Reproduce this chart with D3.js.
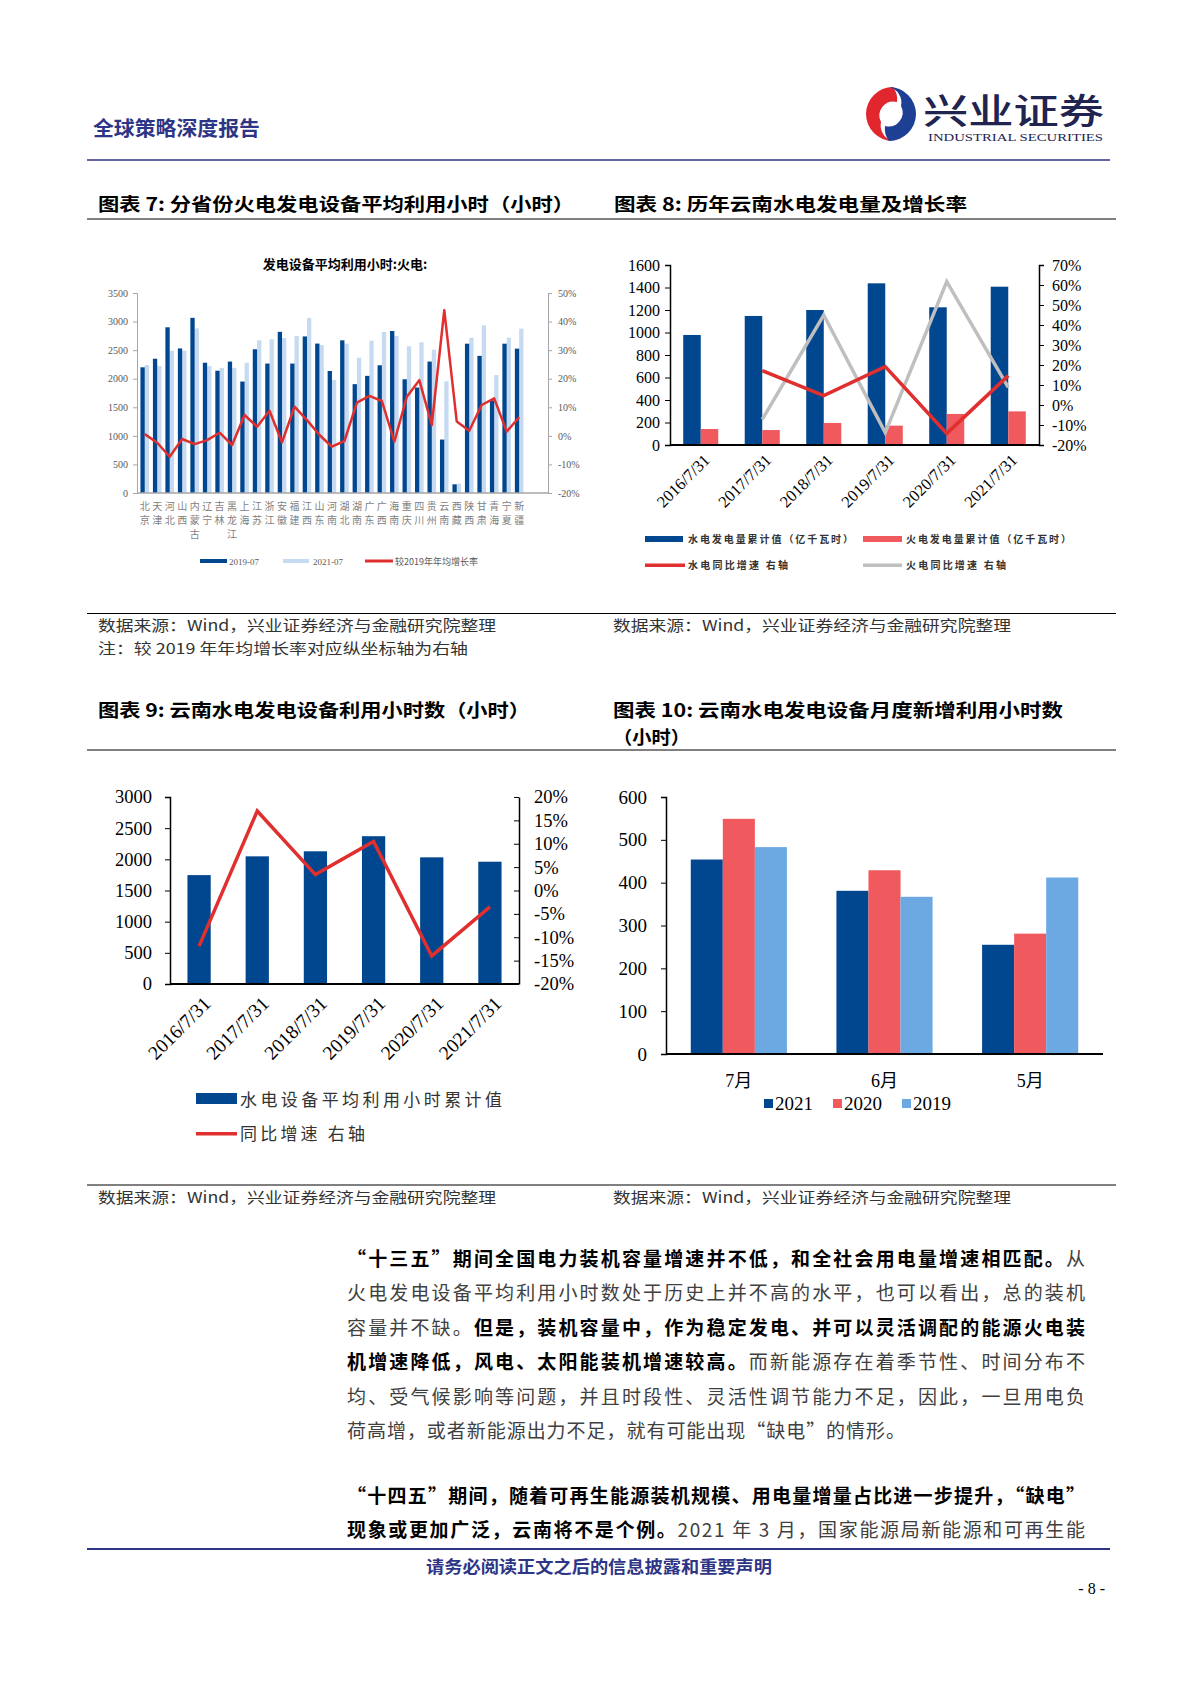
<!DOCTYPE html>
<html>
<head>
<meta charset="utf-8">
<script src="https://cdn.jsdelivr.net/npm/d3@7"></script>
<style>
  body { margin: 0; background: #fff; }
  svg { display: block; }
  .cjk { font-family: "Noto Sans CJK SC", sans-serif; }
  .num { font-family: "Liberation Serif", "Noto Sans CJK SC", serif; }
</style>
</head>
<body>
<div id="page"></div>
<script>
// ---------- data ----------
var provinces = ["北京", "天津", "河北", "山西", "内蒙古", "辽宁", "吉林", "黑龙江", "上海", "江苏", "浙江",
  "安徽", "福建", "江西", "山东", "河南", "湖北", "湖南", "广东", "广西", "海南", "重庆", "四川", "贵州",
  "云南", "西藏", "陕西", "甘肃", "青海", "宁夏", "新疆"];
var hours2019 = [2200, 2350, 2900, 2530, 3065, 2280, 2140, 2300, 1950, 2515, 2265, 2820, 2265, 2740, 2615,
  2135, 2672, 1905, 2050, 2235, 2835, 1990, 1845, 2300, 935, 152, 2613, 2400, 1620, 2613, 2526];
var hours2021 = [2240, 2222, 2490, 2490, 2880, 2222, 2190, 2190, 2280, 2673, 2690, 2713, 2749, 3065, 2590,
  1980, 2613, 2368, 2666, 2817, 2747, 2567, 2637, 2508, 1954, 163, 2718, 2934, 2065, 2718, 2876];
var growthVs2019 = [0.6, -2.4, -7.3, -1.1, -2.9, -1.5, 1.1, -3.2, 7.3, 3.2, 8.8, -2.3, 10.2, 5.5, 0.3,
  -3.8, -1.8, 11.6, 14.0, 12.2, -2.0, 13.7, 19.5, 3.8, 44.0, 5.0, 1.8, 10.8, 13.1, 1.5, 6.5];

var years = ["2016/7/31", "2017/7/31", "2018/7/31", "2019/7/31", "2020/7/31", "2021/7/31"];
var hydroGen = [978, 1147, 1200, 1437, 1224, 1407];
var thermalGen = [142, 133, 196, 172, 276, 299];
var hydroGenYoY = [null, 17.2, 4.7, 19.2, -14.2, 14.7];
var thermalGenYoY = [null, -7.2, 45.0, -13.8, 61.7, 8.8];

var hydroHours = [1747, 2048, 2129, 2371, 2032, 1962];
var hydroHoursYoY = [-11.9, 17.0, 3.4, 10.5, -14.0, -3.5];

var months = ["7月", "6月", "5月"];
var monthSeries = ["2021", "2020", "2019"];
var newHours2021 = [454, 381, 255];
var newHours2020 = [549, 429, 281];
var newHours2019 = [483, 367, 412];

var yTicks7 = [0, 500, 1000, 1500, 2000, 2500, 3000, 3500];
var rTicks7 = [-20, -10, 0, 10, 20, 30, 40, 50];
var yTicks8 = [0, 200, 400, 600, 800, 1000, 1200, 1400, 1600];
var rTicks8 = [-20, -10, 0, 10, 20, 30, 40, 50, 60, 70];
var yTicks9 = [0, 500, 1000, 1500, 2000, 2500, 3000];
var rTicks9 = [-20, -15, -10, -5, 0, 5, 10, 15, 20];
var yTicks10 = [0, 100, 200, 300, 400, 500, 600];

// body text, one entry per line: [text, bold]
var para1 = [
  [["“十三五”期间全国电力装机容量增速并不低，和全社会用电量增速相匹配。", true], ["从", false]],
  [["火电发电设备平均利用小时数处于历史上并不高的水平，也可以看出，总的装机", false]],
  [["容量并不缺。", false], ["但是，装机容量中，作为稳定发电、并可以灵活调配的能源火电装", true]],
  [["机增速降低，风电、太阳能装机增速较高。", true], ["而新能源存在着季节性、时间分布不", false]],
  [["均、受气候影响等问题，并且时段性、灵活性调节能力不足，因此，一旦用电负", false]],
  [["荷高增，或者新能源出力不足，就有可能出现“缺电”的情形。", false]]
];
var para2 = [
  [["“十四五”期间，随着可再生能源装机规模、用电量增量占比进一步提升，“缺电”", true]],
  [["现象或更加广泛，云南将不是个例。", true], ["2021 年 3 月，国家能源局新能源和可再生能", false]]
];

// ---------- colors ----------
var navy = "#00478F";
var lightBlue = "#C6DBF2";
var redBar = "#F0595E";
var redLine = "#E02F2F";
var greyLine = "#BFBFBF";
var skyBlue = "#6CA8E2";
var headerBlue = "#2E3586";
var plain = d3.format("d");

var svg = d3.select("#page").append("svg")
  .attr("width", 1200)
  .attr("height", 1698);

svg.append("rect").attr("width", 1200).attr("height", 1698).attr("fill", "#fff");

// ---------- page header ----------
svg.append("text").attr("class", "cjk")
  .attr("x", 93).attr("y", 136)
  .attr("font-size", 20).attr("font-weight", "bold")
  .attr("fill", headerBlue)
  .attr("textLength", 167).attr("lengthAdjust", "spacingAndGlyphs")
  .text("全球策略深度报告");

// logo swirl
var logo = svg.append("g").attr("transform", "translate(891,114)");
logo.append("path")
  .attr("d", "M2,-27 A27,27 0 1,0 2,27 A16,16 0 0,1 -10,8 A14,14 0 0,1 6,-12 A20,20 0 0,0 2,-27 Z")
  .attr("fill", "#E1262D");
logo.append("path")
  .attr("d", "M-2,27 A27,27 0 1,0 -2,-27 A16,16 0 0,1 10,-8 A14,14 0 0,1 -6,12 A20,20 0 0,0 -2,27 Z")
  .attr("fill", "#1D3F94");

svg.append("text").attr("class", "cjk")
  .attr("x", 923).attr("y", 124)
  .attr("font-size", 35).attr("font-weight", 500)
  .attr("fill", "#1F2450")
  .attr("textLength", 181).attr("lengthAdjust", "spacingAndGlyphs")
  .text("兴业证券");
svg.append("text").attr("class", "num")
  .attr("x", 928).attr("y", 141)
  .attr("font-size", 10.5)
  .attr("fill", "#1F2450")
  .attr("textLength", 175).attr("lengthAdjust", "spacingAndGlyphs")
  .text("INDUSTRIAL SECURITIES");

svg.append("line").attr("x1", 87).attr("x2", 1110).attr("y1", 160).attr("y2", 160)
  .attr("stroke", headerBlue).attr("stroke-width", 1.5);

// ---------- section titles, rules and sources ----------
function title(x, y, str, len) {
  svg.append("text").attr("class", "cjk")
    .attr("x", x).attr("y", y)
    .attr("font-size", 18).attr("font-weight", "bold")
    .attr("fill", "#000")
    .attr("textLength", len).attr("lengthAdjust", "spacingAndGlyphs")
    .text(str);
}
function rule(y) {
  svg.append("line").attr("x1", 87).attr("x2", 1116).attr("y1", y).attr("y2", y)
    .attr("stroke", "#000").attr("stroke-width", 1);
}
function note(x, y, str, len) {
  svg.append("text").attr("class", "cjk")
    .attr("x", x).attr("y", y)
    .attr("font-size", 15).attr("fill", "#333")
    .attr("textLength", len).attr("lengthAdjust", "spacingAndGlyphs")
    .text(str);
}

title(98, 211, "图表 7:  分省份火电发电设备平均利用小时（小时）", 476);
title(614, 211, "图表 8:  历年云南水电发电量及增长率", 353);
rule(219);
rule(613.5);
note(98, 631, "数据来源：Wind，兴业证券经济与金融研究院整理", 398);
note(98, 654, "注：较 2019 年年均增长率对应纵坐标轴为右轴", 370);
note(613, 631, "数据来源：Wind，兴业证券经济与金融研究院整理", 398);

title(98, 717, "图表 9:  云南水电发电设备利用小时数（小时）", 432);
title(613, 717, "图表 10:  云南水电发电设备月度新增利用小时数", 450);
title(613, 744, "（小时）", 77);
rule(750);
rule(1185);
note(98, 1203, "数据来源：Wind，兴业证券经济与金融研究院整理", 398);
note(613, 1203, "数据来源：Wind，兴业证券经济与金融研究院整理", 398);

// ---------- chart 7 ----------
var p7 = { left: 137, right: 548, top: 293, bottom: 493 };
var x7 = d3.scaleBand().domain(provinces).range([138.5, 525.4]).paddingInner(0.31).paddingOuter(0.155);
var sub7 = d3.scaleBand().domain(["2019-07", "2021-07"]).range([0, x7.bandwidth()]);
var y7 = d3.scaleLinear().domain([0, 3500]).range([p7.bottom, p7.top]);
var r7 = d3.scaleLinear().domain([-20, 50]).range([p7.bottom, p7.top]);
var g7 = svg.append("g");

g7.append("text").attr("class", "cjk")
  .attr("x", 345).attr("y", 269)
  .attr("text-anchor", "middle")
  .attr("font-size", 13).attr("font-weight", "bold")
  .attr("fill", "#000")
  .text("发电设备平均利用小时:火电:");

g7.selectAll(".b21").data(hours2021).enter().append("rect")
  .attr("x", (d, i) => x7(provinces[i]) + sub7("2021-07"))
  .attr("y", d => y7(d))
  .attr("width", sub7.bandwidth())
  .attr("height", d => y7(0) - y7(d))
  .attr("fill", lightBlue);
g7.selectAll(".b19").data(hours2019).enter().append("rect")
  .attr("x", (d, i) => x7(provinces[i]) + sub7("2019-07"))
  .attr("y", d => y7(d))
  .attr("width", sub7.bandwidth())
  .attr("height", d => y7(0) - y7(d))
  .attr("fill", navy);

var yAxis7 = g7.append("g")
  .attr("transform", `translate(${p7.left},0)`)
  .call(d3.axisLeft(y7).tickValues(yTicks7).tickSize(4).tickPadding(5).tickFormat(plain));
var rAxis7 = g7.append("g")
  .attr("transform", `translate(${p7.right},0)`)
  .call(d3.axisRight(r7).tickValues(rTicks7).tickSize(4).tickPadding(6).tickFormat(d => d + "%"));
[yAxis7, rAxis7].forEach(function (a) {
  a.select(".domain").attr("stroke", "#A6A6A6");
  a.selectAll(".tick line").attr("stroke", "#A6A6A6");
  a.selectAll(".tick text").attr("class", "num").attr("font-size", 10).attr("fill", "#595959");
});

g7.append("line")
  .attr("x1", p7.left).attr("x2", p7.right)
  .attr("y1", y7(0)).attr("y2", y7(0))
  .attr("stroke", "#A6A6A6").attr("stroke-width", 1.5);

g7.append("path")
  .datum(growthVs2019)
  .attr("fill", "none")
  .attr("stroke", redLine)
  .attr("stroke-width", 2.5)
  .attr("stroke-linejoin", "round")
  .attr("d", d3.line()
    .x((d, i) => x7(provinces[i]) + x7.bandwidth() / 2)
    .y(d => r7(d)));

// vertical province labels
var lab7 = g7.selectAll(".plab").data(provinces).enter().append("text")
  .attr("class", "cjk")
  .attr("font-size", 10)
  .attr("fill", "#7F7F7F")
  .attr("text-anchor", "middle");
lab7.each(function (name) {
  var t = d3.select(this);
  var cx = x7(name) + x7.bandwidth() / 2;
  name.split("").forEach(function (ch, k) {
    t.append("tspan").attr("x", cx).attr("y", 510 + k * 14).text(ch);
  });
});

// legend 7
var leg7 = g7.append("g").attr("class", "cjk").attr("font-size", 9).attr("fill", "#595959");
leg7.append("rect").attr("x", 200).attr("y", 559).attr("width", 27).attr("height", 4).attr("fill", navy);
leg7.append("text").attr("class", "num").attr("x", 229).attr("y", 565).text("2019-07");
leg7.append("rect").attr("x", 283).attr("y", 559).attr("width", 26).attr("height", 4).attr("fill", lightBlue);
leg7.append("text").attr("class", "num").attr("x", 313).attr("y", 565).text("2021-07");
leg7.append("rect").attr("x", 365).attr("y", 559.5).attr("width", 28).attr("height", 3).attr("fill", redLine);
leg7.append("text").attr("x", 395).attr("y", 565).text("较2019年年均增长率");

// ---------- chart 8 ----------
var p8 = { left: 670, right: 1039, top: 265, bottom: 445 };
var x8 = d3.scaleBand().domain(years).range([p8.left, p8.right]).paddingInner(0.43).paddingOuter(0.215);
var sub8 = d3.scaleBand().domain(["hydro", "thermal"]).range([0, x8.bandwidth()]);
var y8 = d3.scaleLinear().domain([0, 1600]).range([p8.bottom, p8.top]);
var r8 = d3.scaleLinear().domain([-20, 70]).range([p8.bottom, p8.top]);
var g8 = svg.append("g");

g8.selectAll(".h").data(hydroGen).enter().append("rect")
  .attr("x", (d, i) => x8(years[i]) + sub8("hydro"))
  .attr("y", d => y8(d))
  .attr("width", sub8.bandwidth())
  .attr("height", d => y8(0) - y8(d))
  .attr("fill", navy);
g8.selectAll(".t").data(thermalGen).enter().append("rect")
  .attr("x", (d, i) => x8(years[i]) + sub8("thermal"))
  .attr("y", d => y8(d))
  .attr("width", sub8.bandwidth())
  .attr("height", d => y8(0) - y8(d))
  .attr("fill", redBar);

var line8 = d3.line()
  .defined(d => d !== null)
  .x((d, i) => x8(years[i]) + x8.bandwidth() / 2)
  .y(d => r8(d));
g8.append("path").datum(thermalGenYoY)
  .attr("fill", "none").attr("stroke", greyLine).attr("stroke-width", 3.5)
  .attr("d", line8);
g8.append("path").datum(hydroGenYoY)
  .attr("fill", "none").attr("stroke", redLine).attr("stroke-width", 3.5)
  .attr("d", line8);

var yAxis8 = g8.append("g")
  .attr("transform", `translate(${p8.left},0)`)
  .call(d3.axisLeft(y8).tickValues(yTicks8).tickSize(5).tickPadding(5).tickFormat(plain));
var rAxis8 = g8.append("g")
  .attr("transform", `translate(${p8.right},0)`)
  .call(d3.axisRight(r8).tickValues(rTicks8).tickSize(5).tickPadding(8).tickFormat(d => d + "%"));
[yAxis8, rAxis8].forEach(function (a) {
  a.select(".domain").attr("stroke", "#000").attr("stroke-width", 1.5);
  a.selectAll(".tick line").attr("stroke", "#000");
  a.selectAll(".tick text").attr("class", "num").attr("font-size", 16).attr("fill", "#000");
});
g8.append("line")
  .attr("x1", p8.left).attr("x2", p8.right)
  .attr("y1", y8(0)).attr("y2", y8(0))
  .attr("stroke", "#000").attr("stroke-width", 2);

g8.selectAll(".xl").data(years).enter().append("text")
  .attr("class", "num")
  .attr("font-size", 16.5)
  .attr("text-anchor", "end")
  .attr("transform", d => `translate(${x8(d) + x8.bandwidth() / 2 + 6},${p8.bottom + 12}) rotate(-45)`)
  .attr("dy", "0.35em")
  .text(d => d);

var leg8 = g8.append("g").attr("class", "cjk").attr("font-size", 10).attr("font-weight", "bold").attr("fill", "#333");
leg8.append("rect").attr("x", 645).attr("y", 536).attr("width", 38).attr("height", 6).attr("fill", navy);
leg8.append("text").attr("x", 688).attr("y", 543).attr("textLength", 165).text("水电发电量累计值（亿千瓦时）");
leg8.append("rect").attr("x", 863).attr("y", 536).attr("width", 39).attr("height", 6).attr("fill", redBar);
leg8.append("text").attr("x", 906).attr("y", 543).attr("textLength", 165).text("火电发电量累计值（亿千瓦时）");
leg8.append("rect").attr("x", 645).attr("y", 563.5).attr("width", 40).attr("height", 3.5).attr("fill", redLine);
leg8.append("text").attr("x", 688).attr("y", 569).attr("textLength", 100).text("水电同比增速 右轴");
leg8.append("rect").attr("x", 863).attr("y", 563.5).attr("width", 39).attr("height", 3.5).attr("fill", greyLine);
leg8.append("text").attr("x", 906).attr("y", 569).attr("textLength", 100).text("火电同比增速 右轴");

// ---------- chart 9 ----------
var p9 = { left: 170, right: 519, top: 797, bottom: 984 };
var x9 = d3.scaleBand().domain(years).range([p9.left, p9.right]).paddingInner(0.6).paddingOuter(0.3);
var y9 = d3.scaleLinear().domain([0, 3000]).range([p9.bottom, p9.top]);
var r9 = d3.scaleLinear().domain([-20, 20]).range([p9.bottom, p9.top]);
var g9 = svg.append("g");

g9.selectAll(".hh").data(hydroHours).enter().append("rect")
  .attr("x", (d, i) => x9(years[i]))
  .attr("y", d => y9(d))
  .attr("width", x9.bandwidth())
  .attr("height", d => y9(0) - y9(d))
  .attr("fill", navy);

g9.append("path").datum(hydroHoursYoY)
  .attr("fill", "none").attr("stroke", redLine).attr("stroke-width", 3.5)
  .attr("d", d3.line()
    .x((d, i) => x9(years[i]) + x9.bandwidth() / 2)
    .y(d => r9(d)));

var yAxis9 = g9.append("g")
  .attr("transform", `translate(${p9.left},0)`)
  .call(d3.axisLeft(y9).tickValues(yTicks9).tickSize(5).tickPadding(13).tickFormat(plain));
var rAxis9 = g9.append("g")
  .attr("transform", `translate(${p9.right},0)`)
  .call(d3.axisRight(r9).tickValues(rTicks9).tickSizeInner(-5).tickSizeOuter(0).tickPadding(15).tickFormat(d => d + "%"));
[yAxis9, rAxis9].forEach(function (a) {
  a.select(".domain").attr("stroke", "#000").attr("stroke-width", 1.5);
  a.selectAll(".tick line").attr("stroke", "#000");
  a.selectAll(".tick text").attr("class", "num").attr("font-size", 18.5).attr("fill", "#000");
});
g9.append("line")
  .attr("x1", p9.left).attr("x2", p9.right)
  .attr("y1", y9(0)).attr("y2", y9(0))
  .attr("stroke", "#000").attr("stroke-width", 2);

g9.selectAll(".xl").data(years).enter().append("text")
  .attr("class", "num")
  .attr("font-size", 19.5)
  .attr("text-anchor", "end")
  .attr("transform", d => `translate(${x9(d) + x9.bandwidth() / 2 + 8},${p9.bottom + 16}) rotate(-45)`)
  .attr("dy", "0.35em")
  .text(d => d);

var leg9 = g9.append("g").attr("class", "cjk").attr("font-size", 17).attr("fill", "#333");
leg9.append("rect").attr("x", 196).attr("y", 1093).attr("width", 41).attr("height", 11).attr("fill", navy);
leg9.append("text").attr("x", 240).attr("y", 1106).attr("textLength", 262).text("水电设备平均利用小时累计值");
leg9.append("rect").attr("x", 196).attr("y", 1132).attr("width", 41).attr("height", 3.5).attr("fill", redLine);
leg9.append("text").attr("x", 240).attr("y", 1140).attr("textLength", 125).text("同比增速 右轴");

// ---------- chart 10 ----------
var p10 = { left: 666, right: 1103, top: 797, bottom: 1054 };
var x10 = d3.scaleBand().domain(months).range([p10.left, p10.right]).paddingInner(0.34).paddingOuter(0.17);
var sub10 = d3.scaleBand().domain(monthSeries).range([0, x10.bandwidth()]);
var y10 = d3.scaleLinear().domain([0, 600]).range([p10.bottom, p10.top]);
var g10 = svg.append("g");
var series10 = [
  { key: "2021", values: newHours2021, color: navy },
  { key: "2020", values: newHours2020, color: redBar },
  { key: "2019", values: newHours2019, color: skyBlue }
];
series10.forEach(function (s) {
  g10.selectAll(".s" + s.key).data(s.values).enter().append("rect")
    .attr("x", (d, i) => x10(months[i]) + sub10(s.key))
    .attr("y", d => y10(d))
    .attr("width", sub10.bandwidth())
    .attr("height", d => y10(0) - y10(d))
    .attr("fill", s.color);
});

var yAxis10 = g10.append("g")
  .attr("transform", `translate(${p10.left},0)`)
  .call(d3.axisLeft(y10).tickValues(yTicks10).tickSize(5).tickPadding(14).tickFormat(plain));
yAxis10.select(".domain").attr("stroke", "#000").attr("stroke-width", 1.5);
yAxis10.selectAll(".tick line").attr("stroke", "#000");
yAxis10.selectAll(".tick text").attr("class", "num").attr("font-size", 19).attr("fill", "#000");

g10.append("line")
  .attr("x1", p10.left).attr("x2", p10.right)
  .attr("y1", y10(0)).attr("y2", y10(0))
  .attr("stroke", "#000").attr("stroke-width", 2);

g10.selectAll(".xl").data(months).enter().append("text")
  .attr("class", "num")
  .attr("font-size", 18)
  .attr("text-anchor", "middle")
  .attr("x", d => x10(d) + x10.bandwidth() / 2)
  .attr("y", 1087)
  .text(d => d);

var leg10 = g10.append("g").attr("class", "num").attr("font-size", 19).attr("fill", "#000");
var legX10 = d3.scalePoint().domain(monthSeries).range([764, 902]);
series10.forEach(function (s) {
  leg10.append("rect").attr("x", legX10(s.key)).attr("y", 1099).attr("width", 9).attr("height", 9).attr("fill", s.color);
  leg10.append("text").attr("x", legX10(s.key) + 11).attr("y", 1110).text(s.key);
});

// ---------- body text ----------
function writeLines(lines, y0, step, lastLen) {
  lines.forEach(function (segs, i) {
    var t = svg.append("text").attr("class", "cjk")
      .attr("x", 347).attr("y", y0 + i * step)
      .attr("font-size", 19)
      .attr("lengthAdjust", "spacing")
      .attr("textLength", (i === lines.length - 1 && lastLen) ? lastLen : 738);
    segs.forEach(function (s) {
      t.append("tspan")
        .attr("font-weight", s[1] ? "bold" : "normal")
        .attr("fill", s[1] ? "#000" : "#404040")
        .text(s[0]);
    });
  });
}
writeLines(para1, 1266, 34.4, 558);
writeLines(para2, 1503, 34.2, null);

// ---------- footer ----------
svg.append("line").attr("x1", 87).attr("x2", 1110).attr("y1", 1549).attr("y2", 1549)
  .attr("stroke", headerBlue).attr("stroke-width", 2);
svg.append("text").attr("class", "cjk")
  .attr("x", 426).attr("y", 1573)
  .attr("font-size", 17).attr("font-weight", "bold")
  .attr("fill", headerBlue)
  .attr("textLength", 346).attr("lengthAdjust", "spacingAndGlyphs")
  .text("请务必阅读正文之后的信息披露和重要声明");
svg.append("text").attr("class", "num")
  .attr("x", 1105).attr("y", 1594)
  .attr("text-anchor", "end")
  .attr("font-size", 16)
  .attr("fill", "#000")
  .text("- 8 -");
</script>
</body>
</html>
